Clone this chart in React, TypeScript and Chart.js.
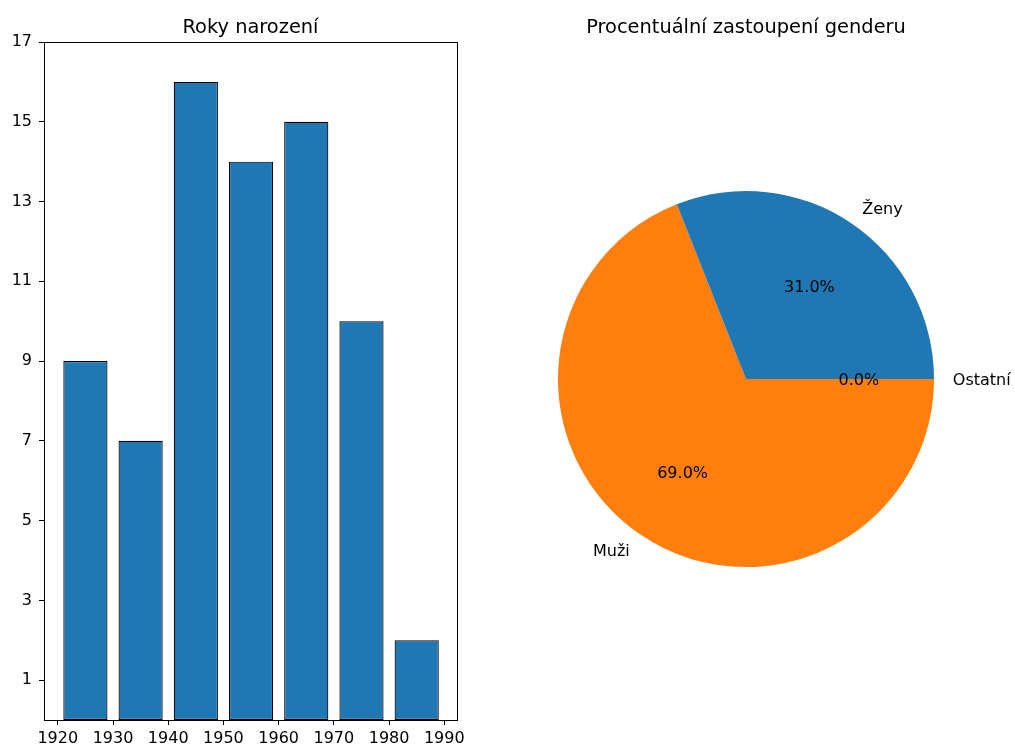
import React, { useEffect, useRef } from "react";
import { Chart, registerables } from "chart.js";

Chart.register(...registerables);

// ---- data ----
const binStarts = [1920, 1930, 1940, 1950, 1960, 1970, 1980];
const binWidth = 10;
const counts = [9, 7, 16, 14, 15, 10, 2];
const xTicks = [1920, 1930, 1940, 1950, 1960, 1970, 1980, 1990];
const yTicks = [1, 3, 5, 7, 9, 11, 13, 15, 17];
const xRange = [1917.5, 1992.3];
const yRange = [0, 17];

const genderLabels = ["Ženy", "Muži", "Ostatní"];
const genderShares = [31, 69, 0];
const genderColors = ["#1f77b4", "#ff7f0e", "#2ca02c"];

const barTitle = "Roky narození";
const pieTitle = "Procentuální zastoupení genderu";

const FONT = "DejaVu Sans";
const TICK_PX = 16;
const TITLE_PX = 19.4;
const TITLE_BASELINE = 33;
const TEXT_SHIFT = 2;

Chart.defaults.font.family = FONT;
Chart.defaults.color = "#000";

const barExtras = {
  id: "barExtras",
  afterDraw(chart: any) {
    const { ctx, chartArea } = chart;
    ctx.save();
    ctx.strokeStyle = "#000";
    ctx.lineWidth = 1;
    ctx.strokeRect(
      Math.round(chartArea.left) + 0.5,
      Math.round(chartArea.top) + 0.5,
      Math.round(chartArea.right - chartArea.left),
      Math.round(chartArea.bottom - chartArea.top)
    );
    ctx.fillStyle = "#000";
    ctx.font = `${TITLE_PX}px "${FONT}"`;
    ctx.textAlign = "center";
    ctx.textBaseline = "alphabetic";
    ctx.fillText(barTitle, (chartArea.left + chartArea.right) / 2, TITLE_BASELINE);
    ctx.restore();
  },
};

const pieExtras = {
  id: "pieExtras",
  afterDatasetsDraw(chart: any) {
    const { ctx } = chart;
    const meta = chart.getDatasetMeta(0);
    const labels = chart.data.labels as string[];
    const values = chart.data.datasets[0].data as number[];
    const total = values.reduce((a: number, b: number) => a + b, 0);
    ctx.save();
    ctx.fillStyle = "#000";
    ctx.font = `${TICK_PX}px "${FONT}"`;
    ctx.textBaseline = "middle";
    let cx = 0;
    meta.data.forEach((arc: any, i: number) => {
      const p = arc.getProps(["x", "y", "startAngle", "endAngle", "outerRadius"], true);
      cx = p.x;
      const mid = (p.startAngle + p.endAngle) / 2;
      const c = Math.cos(mid);
      const s = Math.sin(mid);
      const r = p.outerRadius;
      ctx.textAlign = c >= 0 ? "left" : "right";
      ctx.fillText(labels[i], p.x + 1.1 * r * c, p.y + 1.1 * r * s + TEXT_SHIFT);
      ctx.textAlign = "center";
      const pct = ((values[i] / total) * 100).toFixed(1) + "%";
      ctx.fillText(pct, p.x + 0.6 * r * c, p.y + 0.6 * r * s + TEXT_SHIFT);
    });
    ctx.font = `${TITLE_PX}px "${FONT}"`;
    ctx.textAlign = "center";
    ctx.textBaseline = "alphabetic";
    ctx.fillText(pieTitle, cx, TITLE_BASELINE);
    ctx.restore();
  },
};

export default function App() {
  const barRef = useRef<HTMLCanvasElement>(null);
  const pieRef = useRef<HTMLCanvasElement>(null);

  useEffect(() => {
    const tickGrid = {
      display: true,
      drawOnChartArea: false,
      drawTicks: true,
      tickLength: 5,
      tickWidth: 1,
      tickColor: "#000",
      offset: false,
    };
    const bar = new Chart(barRef.current!, {
      type: "bar",
      data: {
        datasets: [
          {
            data: binStarts.map((b, i) => ({ x: b + binWidth / 2, y: counts[i] })),
            backgroundColor: "#1f77b4",
            borderColor: "#000",
            borderWidth: 1.2,
            borderSkipped: false,
            barPercentage: 0.8,
            categoryPercentage: 1.0,
          },
        ],
      },
      options: {
        responsive: false,
        animation: false,
        layout: { padding: { top: 42, right: 13, left: 0, bottom: 0 } },
        plugins: { legend: { display: false }, tooltip: { enabled: false }, title: { display: false } },
        scales: {
          x: {
            type: "linear",
            min: xRange[0],
            max: xRange[1],
            offset: false,
            grid: tickGrid as any,
            border: { display: false },
            ticks: {
              font: { size: TICK_PX, family: FONT },
              color: "#000",
              padding: 4,
              maxRotation: 0,
              autoSkip: false,
              callback: (v: any) => String(v),
            },
            afterBuildTicks: (s: any) => {
              s.ticks = xTicks.map((v) => ({ value: v }));
            },
            afterFit: (s: any) => {
              s.height = 24;
              s.paddingLeft = 0;
              s.paddingRight = 0;
            },
          },
          y: {
            type: "linear",
            min: yRange[0],
            max: yRange[1],
            grid: tickGrid as any,
            border: { display: false },
            ticks: {
              font: { size: TICK_PX, family: FONT },
              color: "#000",
              padding: 7,
              autoSkip: false,
              callback: (v: any) => String(v),
            },
            afterBuildTicks: (s: any) => {
              s.ticks = yTicks.map((v) => ({ value: v }));
            },
            afterFit: (s: any) => {
              s.width = 44;
              s.paddingTop = 0;
              s.paddingBottom = 0;
            },
          },
        },
      },
      plugins: [barExtras],
    });

    const order = [2, 1, 0];
    const pie = new Chart(pieRef.current!, {
      type: "pie",
      data: {
        labels: order.map((i) => genderLabels[i]),
        datasets: [
          {
            data: order.map((i) => genderShares[i]),
            backgroundColor: order.map((i) => genderColors[i]),
            borderWidth: 0,
          },
        ],
      },
      options: {
        responsive: false,
        animation: false,
        rotation: 90,
        layout: { padding: { left: 88, right: 81, top: 191, bottom: 177 } },
        plugins: { legend: { display: false }, tooltip: { enabled: false }, title: { display: false } },
      },
      plugins: [pieExtras],
    });

    return () => {
      bar.destroy();
      pie.destroy();
    };
  }, []);

  return (
    <div
      style={{
        position: "fixed",
        left: 0,
        top: 0,
        width: 1015,
        height: 744,
        background: "#fff",
        overflow: "hidden",
      }}
    >
      <canvas
        ref={barRef}
        width={470}
        height={744}
        style={{ position: "absolute", left: 0, top: 0, width: 470, height: 744 }}
      />
      <canvas
        ref={pieRef}
        width={545}
        height={744}
        style={{ position: "absolute", left: 470, top: 0, width: 545, height: 744 }}
      />
    </div>
  );
}
